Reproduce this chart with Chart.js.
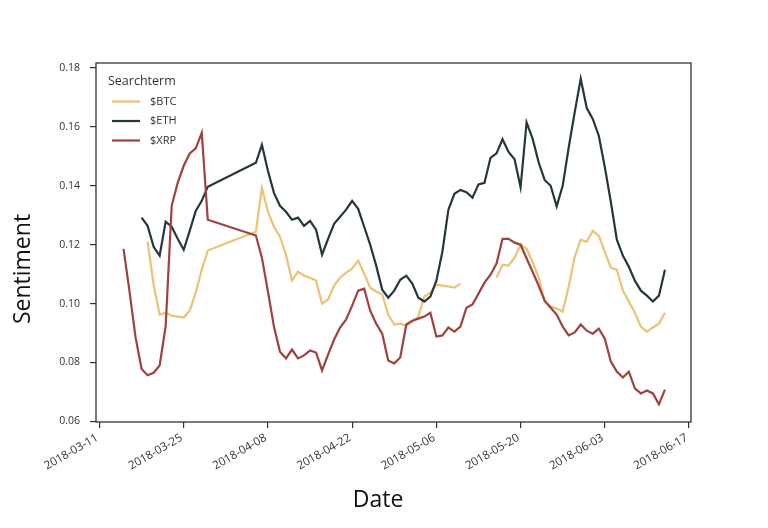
<!DOCTYPE html>
<html><head><meta charset="utf-8">
<script src="https://cdn.jsdelivr.net/npm/chart.js@4.4.0/dist/chart.umd.min.js"></script>
<style>html,body{margin:0;padding:0;background:#fff}#wrap{width:768px;height:528px}</style>
</head><body><div id="wrap"><canvas id="c" width="768" height="528"></canvas></div>
<script>
const dates = [
'2018-03-15','2018-03-16','2018-03-17','2018-03-18','2018-03-19','2018-03-20','2018-03-21','2018-03-22','2018-03-23','2018-03-24','2018-03-25','2018-03-26','2018-03-27','2018-03-28','2018-03-29',
'2018-04-06','2018-04-07','2018-04-08','2018-04-09','2018-04-10','2018-04-11','2018-04-12','2018-04-13','2018-04-14','2018-04-15','2018-04-16','2018-04-17','2018-04-18','2018-04-19','2018-04-20','2018-04-21','2018-04-22','2018-04-23','2018-04-24','2018-04-25','2018-04-26','2018-04-27','2018-04-28','2018-04-29','2018-04-30',
'2018-05-01','2018-05-02','2018-05-03','2018-05-04','2018-05-05','2018-05-06','2018-05-07','2018-05-08','2018-05-09','2018-05-10','2018-05-11','2018-05-12','2018-05-13','2018-05-14','2018-05-15','2018-05-16','2018-05-17','2018-05-18','2018-05-19','2018-05-20','2018-05-21','2018-05-22','2018-05-23','2018-05-24','2018-05-25','2018-05-26','2018-05-27','2018-05-28','2018-05-29','2018-05-30','2018-05-31',
'2018-06-01','2018-06-02','2018-06-03','2018-06-04','2018-06-05','2018-06-06','2018-06-07','2018-06-08','2018-06-09','2018-06-10','2018-06-11','2018-06-12','2018-06-13'];
const btc = [
null,null,null,null,0.1210,0.1064,0.0963,0.0969,0.0959,0.0956,0.0953,0.0976,0.1037,0.1115,0.1180,
0.1244,0.1393,0.1312,0.1261,0.1227,0.1166,0.1078,0.1108,0.1095,0.1088,0.1078,0.1000,0.1014,0.1061,0.1088,0.1105,0.1119,0.1146,0.1102,0.1054,0.1041,0.1031,0.0963,0.0929,0.0932,
0.0925,0.0939,0.0956,0.1024,0.1037,0.1064,0.1061,0.1058,0.1054,0.1068,null,null,null,null,null,0.1088,0.1132,0.1129,0.1156,0.1200,0.1186,0.1142,0.1088,0.1007,0.0990,0.0983,0.0973,0.1058,0.1159,0.1217,0.1210,
0.1247,0.1231,0.1176,0.1122,0.1115,0.1044,0.1007,0.0969,0.0922,0.0905,0.0919,0.0932,0.0969];
const eth = [
null,null,null,0.1292,0.1264,0.1193,0.1163,0.1278,0.1261,0.1220,0.1183,0.1247,0.1315,0.1349,0.1397,
0.1478,0.1539,0.1451,0.1376,0.1332,0.1312,0.1285,0.1292,0.1264,0.1281,0.1251,0.1166,0.1220,0.1271,0.1295,0.1319,0.1349,0.1322,0.1261,0.1200,0.1129,0.1047,0.1020,0.1044,0.1081,
0.1095,0.1068,0.1020,0.1007,0.1024,0.1078,0.1176,0.1319,0.1373,0.1386,0.1378,0.1360,0.1405,0.1410,0.1495,0.1510,0.1558,0.1515,0.1490,0.1395,0.1615,0.1560,0.1480,0.1420,0.1400,0.1330,0.1400,0.1530,0.1650,0.1763,0.1664,
0.1627,0.1570,0.1464,0.1346,0.1217,0.1163,0.1125,0.1078,0.1044,0.1027,0.1007,0.1027,0.1115];
const xrp = [
0.1186,0.1040,0.0885,0.0778,0.0757,0.0765,0.0790,0.0923,0.1332,0.1410,0.1468,0.1510,0.1527,0.1580,0.1285,
0.1231,0.1156,0.1041,0.0922,0.0837,0.0814,0.0844,0.0814,0.0824,0.0841,0.0834,0.0773,0.0827,0.0878,0.0919,0.0946,0.0993,0.1044,0.1051,0.0976,0.0932,0.0898,0.0807,0.0797,0.0817,
0.0929,0.0942,0.0949,0.0956,0.0969,0.0888,0.0892,0.0919,0.0905,0.0922,0.0986,0.0997,0.1034,0.1071,0.1098,0.1136,0.1220,0.1220,0.1207,0.1200,0.1153,0.1108,0.1061,0.1010,0.0986,0.0963,0.0922,0.0892,0.0902,0.0929,0.0908,
0.0898,0.0915,0.0881,0.0803,0.0769,0.0749,0.0769,0.0712,0.0695,0.0705,0.0695,0.0658,0.0708];
const seriesNames = ['$BTC','$ETH','$XRP'];
const seriesColors = ['#EBC276','#26373B','#9E423D'];
const xTickDates = ['2018-03-11','2018-03-25','2018-04-08','2018-04-22','2018-05-06','2018-05-20','2018-06-03','2018-06-17'];
const yTickValues = [0.06,0.08,0.10,0.12,0.14,0.16,0.18];
const legendTitle = 'Searchterm';
const xTitle = 'Date';
const yTitle = 'Sentiment';

const BASE = Date.UTC(2018,2,11);
function dayNum(s){const p=s.split('-').map(Number);return (Date.UTC(p[0],p[1]-1,p[2])-BASE)/86400000;}
function fmt(d){const t=new Date(BASE+Math.round(d)*86400000);const m=String(t.getUTCMonth()+1).padStart(2,'0');const dd=String(t.getUTCDate()).padStart(2,'0');return t.getUTCFullYear()+'-'+m+'-'+dd;}

const seriesData=[btc,eth,xrp];
const FONT="'Open Sans', 'DejaVu Sans', sans-serif";
Chart.defaults.font.family=FONT;

const frame={id:'frame',afterDraw(chart){
  const ctx=chart.ctx,a=chart.chartArea;
  ctx.save();
  ctx.strokeStyle='#333';ctx.lineWidth=1.3;
  ctx.strokeRect(a.left,a.top,a.right-a.left,a.bottom-a.top);
  // x tick labels, rotated 30 degrees, right/top aligned like matplotlib
  const xs=chart.scales.x;
  ctx.font="11.5px "+FONT;ctx.fillStyle='#333';
  xs.ticks.forEach(t=>{
    const px=xs.getPixelForValue(t.value);
    ctx.save();
    ctx.translate(px-5,a.bottom+10);
    ctx.rotate(-Math.PI/6);
    ctx.textAlign='right';ctx.textBaseline='top';
    ctx.fillText(fmt(t.value),0,0);
    ctx.restore();
  });
  // legend
  ctx.fillStyle='#333';ctx.textBaseline='middle';ctx.textAlign='left';
  ctx.font="12.5px "+FONT;
  ctx.fillText(legendTitle,108,81);
  ctx.font="11px "+FONT;
  chart.data.datasets.forEach((ds,i)=>{
    const y=101.5+i*19.5;
    ctx.strokeStyle=ds.borderColor;ctx.lineWidth=2.2;
    ctx.beginPath();ctx.moveTo(112,y);ctx.lineTo(140,y);ctx.stroke();
    ctx.fillStyle='#333';ctx.fillText(ds.label,150,y);
  });
  // axis titles
  ctx.font="23px "+FONT;ctx.fillStyle='#111';ctx.textAlign='center';
  ctx.fillText(xTitle,378,500);
  ctx.translate(23,269);ctx.rotate(-Math.PI/2);
  ctx.fillText(yTitle,0,0);
  ctx.restore();
}};

new Chart(document.getElementById('c'),{
  type:'line',
  data:{datasets:seriesNames.map((n,i)=>({
    label:n,
    data:dates.map((d,j)=>({x:dayNum(d),y:seriesData[i][j]})),
    borderColor:seriesColors[i],backgroundColor:seriesColors[i],
    borderWidth:2.2,pointRadius:0,tension:0,spanGaps:false,order:3-i
  }))},
  options:{
    responsive:false,animation:false,devicePixelRatio:1,
    layout:{padding:{top:63,right:77,left:0,bottom:0}},
    plugins:{legend:{display:false},tooltip:{enabled:false}},
    scales:{
      x:{type:'linear',min:-0.58,max:98.33,
        afterBuildTicks(s){s.ticks=xTickDates.map(d=>({value:dayNum(d)}));},
        afterFit(s){s.height=106;},
        grid:{drawOnChartArea:false,drawTicks:true,tickLength:6,color:'#333',lineWidth:1.2},
        border:{display:false},
        ticks:{display:false,autoSkip:false}
      },
      y:{min:0.0598,max:0.1817,
        afterBuildTicks(s){s.ticks=yTickValues.map(v=>({value:v}));},
        afterFit(s){s.width=96;},
        grid:{drawOnChartArea:false,drawTicks:true,tickLength:6,color:'#333',lineWidth:1.2},
        border:{display:false},
        ticks:{callback:v=>v.toFixed(2),font:{size:10.5},color:'#333',padding:10}
      }
    }
  },
  plugins:[frame]
});
</script></body></html>
